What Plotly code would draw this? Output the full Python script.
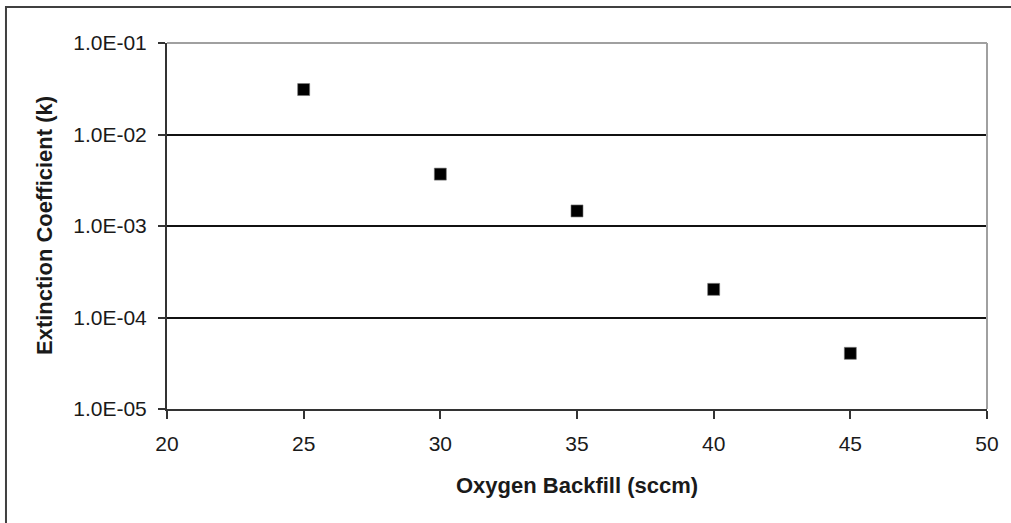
import plotly.graph_objects as go

# Data
oxygen_backfill = [25, 30, 35, 40, 45]
extinction_k = [0.0310, 0.00369, 0.00146, 0.000203, 0.0000406]

x_ticks = [20, 25, 30, 35, 40, 45, 50]
y_ticks = [1e-5, 1e-4, 1e-3, 1e-2, 1e-1]
y_tick_labels = ["1.0E-05", "1.0E-04", "1.0E-03", "1.0E-02", "1.0E-01"]

W, H = 1011, 523
L, R, T, B = 167, 19, 43, 114
pw, ph = W - L - R, H - T - B
FONT = "Liberation Sans, Arial, sans-serif"

fig = go.Figure()
fig.add_trace(go.Scatter(
    x=oxygen_backfill, y=extinction_k, mode="markers",
    marker=dict(symbol="square", size=12, color="black",
                line=dict(color="#777777", width=0.6)),
    showlegend=False, hoverinfo="x+y",
))

fig.update_layout(
    width=W, height=H, autosize=False,
    margin=dict(l=L, r=R, t=T, b=B, pad=0),
    paper_bgcolor="white", plot_bgcolor="white",
    font=dict(family=FONT, size=21, color="#1a1a1a"),
    xaxis=dict(
        range=[20, 50], tickvals=x_ticks, ticktext=[str(v) for v in x_ticks],
        showgrid=False, zeroline=False,
        showline=True, linecolor="#333333", linewidth=2,
        ticks="outside", ticklen=8, tickwidth=2, tickcolor="#333333",
        ticklabelstandoff=7,
        tickfont=dict(family=FONT, size=21, color="#1a1a1a"),
    ),
    yaxis=dict(
        type="log", range=[-5, -1], tickvals=y_ticks, ticktext=y_tick_labels,
        showgrid=True, gridcolor="#111111", gridwidth=1.6,
        zeroline=False,
        showline=True, linecolor="#333333", linewidth=2,
        ticks="outside", ticklen=7, tickwidth=2, tickcolor="#333333",
        ticklabelstandoff=7,
        tickfont=dict(family=FONT, size=21, color="#1a1a1a"),
    ),
)

# Plot-area top and right border (grey), drawn above the grid
fig.add_shape(type="line", xref="paper", yref="paper", x0=0, x1=1, y0=1, y1=1,
              line=dict(color="#a0a0a0", width=2), layer="above")
fig.add_shape(type="line", xref="paper", yref="paper", x0=1, x1=1, y0=0, y1=1,
              line=dict(color="#a0a0a0", width=2), layer="above")

# Outer chart border (only left and top visible in the reference crop)
fig.add_shape(type="rect", xref="paper", yref="paper",
              x0=(5 - L) / pw, x1=(W + 20 - L) / pw,
              y0=-(H + 20 - (T + ph)) / ph, y1=1 + (T - 7) / ph,
              line=dict(color="#404040", width=2), fillcolor="rgba(0,0,0,0)",
              layer="below")

# Axis titles
fig.add_annotation(text="<b>Oxygen Backfill (sccm)</b>", xref="paper", yref="paper",
                   x=0.5, y=0, yshift=-76, showarrow=False,
                   xanchor="center", yanchor="middle",
                   font=dict(family=FONT, size=22, color="#1a1a1a"))
fig.add_annotation(text="<b>Extinction Coefficient (k)</b>", xref="paper", yref="paper",
                   x=0, xshift=-123, y=0.5, textangle=-90, showarrow=False,
                   xanchor="center", yanchor="middle",
                   font=dict(family=FONT, size=22, color="#1a1a1a"))

fig.write_html("out.html", config={"displayModeBar": False},
               post_script="document.body.style.margin='0';")
